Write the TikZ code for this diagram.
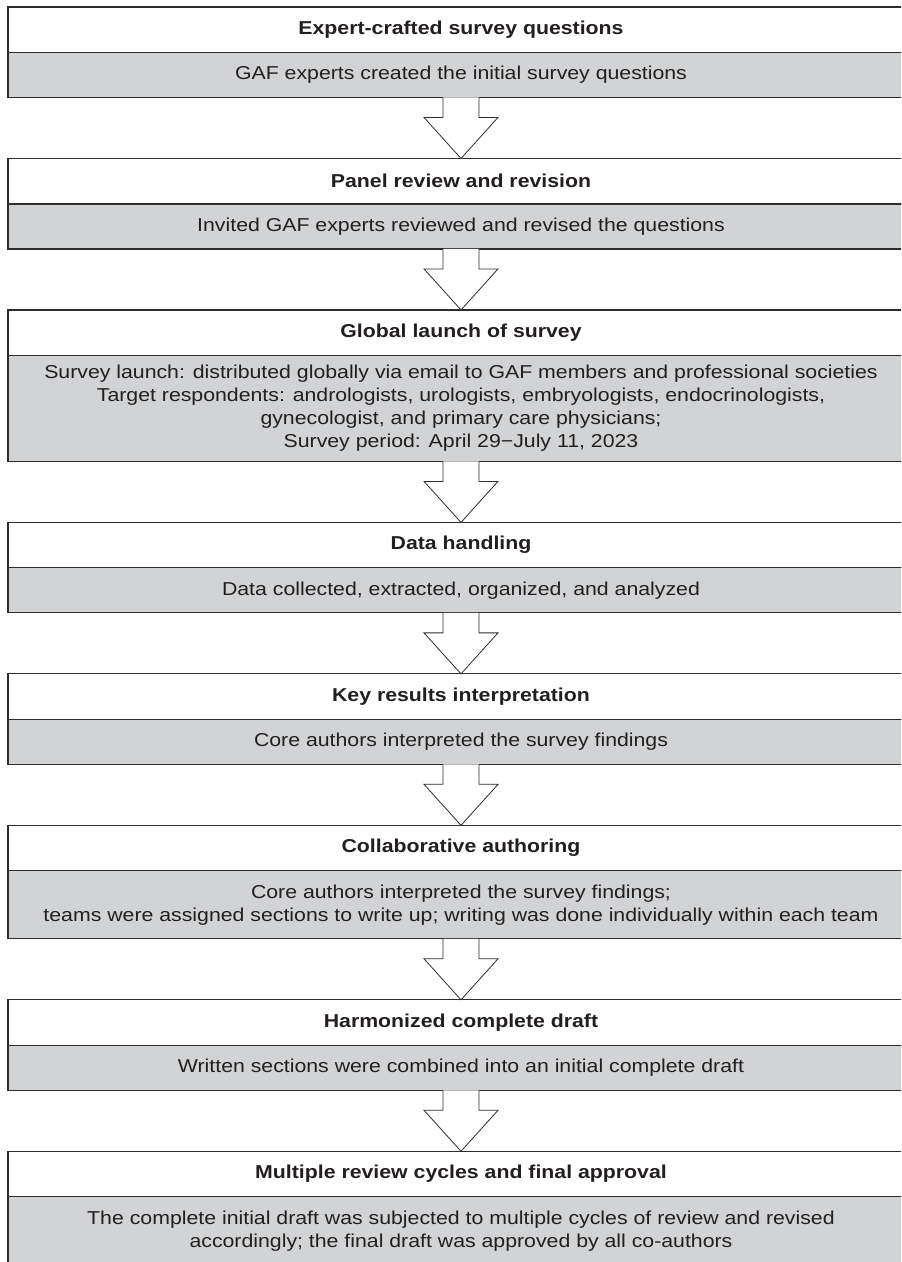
\documentclass[tikz,border=0pt]{standalone}
\usepackage{fontspec}
\setmainfont{Liberation Sans}[FakeStretch=1.14]
\usetikzlibrary{positioning,calc}

\definecolor{stagefill}{RGB}{209,211,212}
\definecolor{stageline}{RGB}{45,45,45}
\definecolor{stagetext}{RGB}{35,31,32}

\tikzset{every picture/.style={line width=0.75pt}}

\begin{document}
\begin{tikzpicture}[x=0.75pt,y=0.75pt,yscale=-1,xscale=1,
  node distance=45.75pt,
  stagetitle/.style={draw=stageline,fill=white,line width=0.9pt,outer sep=0pt,minimum width=679.5pt,minimum height=34.1pt,inner sep=0pt,text=stagetext,font=\fontsize{14}{17.25}\selectfont\bfseries},
  stagebody/.style={draw=stageline,fill=stagefill,line width=0.9pt,outer sep=0pt,minimum width=679.5pt,minimum height=33.75pt,inner sep=0pt,align=center,text=stagetext,font=\fontsize{14}{17.25}\selectfont},
  flowarrow/.style={draw=stageline,fill=white,line width=0.6pt,line join=miter}]
%set diagram size to the reference frame
\path[use as bounding box,clip] (0,0) rectangle (901,1262);

% Stage 1
\node[stagetitle,anchor=north] (t1) at (461,7) {Expert-crafted survey questions};
\node[stagebody,below=0pt of t1] (b1) {GAF experts created the initial survey questions};
% Stage 2
\node[stagetitle,below=of b1] (t2) {Panel review and revision};
\node[stagebody,below=0pt of t2] (b2) {Invited GAF experts reviewed and revised the questions};
% Stage 3
\node[stagetitle,below=of b2] (t3) {Global launch of survey};
\node[stagebody,below=0pt of t3,minimum height=79.5pt] (b3) {Survey launch: distributed globally via email to GAF members and professional societies\\
Target respondents: andrologists, urologists, embryologists, endocrinologists,\\
gynecologist, and primary care physicians;\\
Survey period: April 29\char"2212 July 11, 2023};
% Stage 4
\node[stagetitle,below=of b3] (t4) {Data handling};
\node[stagebody,below=0pt of t4] (b4) {Data collected, extracted, organized, and analyzed};
% Stage 5
\node[stagetitle,below=of b4] (t5) {Key results interpretation};
\node[stagebody,below=0pt of t5] (b5) {Core authors interpreted the survey findings};
% Stage 6
\node[stagetitle,below=of b5] (t6) {Collaborative authoring};
\node[stagebody,below=0pt of t6,minimum height=51pt] (b6) {Core authors interpreted the survey findings;\\
teams were assigned sections to write up; writing was done individually within each team};
% Stage 7
\node[stagetitle,below=of b6] (t7) {Harmonized complete draft};
\node[stagebody,below=0pt of t7] (b7) {Written sections were combined into an initial complete draft};
% Stage 8
\node[stagetitle,below=of b7] (t8) {Multiple review cycles and final approval};
\node[stagebody,below=0pt of t8,minimum height=51pt] (b8) {The complete initial draft was subjected to multiple cycles of review and revised\\
accordingly; the final draft was approved by all co-authors};

% Block arrows between stages
\foreach \a/\b in {b1/t2,b2/t3,b3/t4,b4/t5,b5/t6,b6/t7,b7/t8}
  \draw[flowarrow] ($(\a.south)+(-18,0)$) -- ++(0,20) -- ++(-19,0) -- (\b.north) -- ($(\a.south)+(37,20)$) -- ++(-19,0) -- ++(0,-20);

\end{tikzpicture}
\end{document}
